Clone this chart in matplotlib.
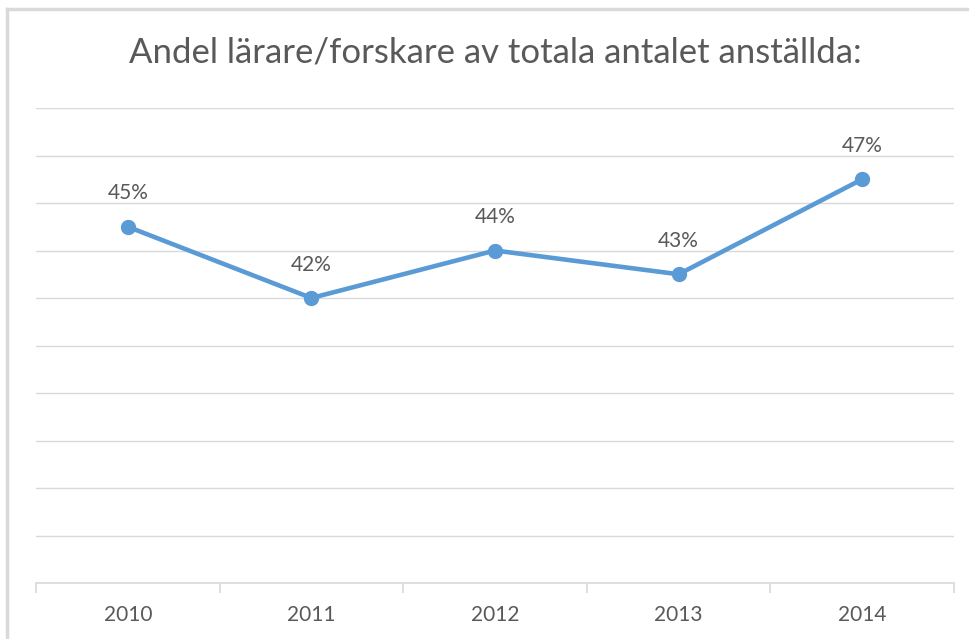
import matplotlib
matplotlib.use("Agg")
import matplotlib.pyplot as plt
from matplotlib.lines import Line2D
import numpy as np

years = ["2010", "2011", "2012", "2013", "2014"]
values = [45, 42, 44, 43, 47]
labels = ["45%", "42%", "44%", "43%", "47%"]
title = "Andel lärare/forskare av totala antalet anställda:"

plt.rcParams['font.family'] = ['Lato', 'DejaVu Sans']

W, H = 970, 639
fig = plt.figure(figsize=(W / 100, H / 100), dpi=100)
fig.patch.set_facecolor("white")

# chart border (left and top visible)
fig.add_artist(Line2D([7.5 / W, 7.5 / W], [0, 1 - 9 / H], transform=fig.transFigure, color="#d9d9d9", lw=2.5))
fig.add_artist(Line2D([7.5 / W, 1], [1 - 9 / H, 1 - 9 / H], transform=fig.transFigure, color="#d9d9d9", lw=2.5))

left, right, top, bottom = 36, 954, 108, 583
ax = fig.add_axes([left / W, 1 - bottom / H, (right - left) / W, (bottom - top) / H])
x = np.arange(len(years))
ax.set_xlim(-0.5, len(years) - 0.5)
ax.set_ylim(30, 50)
ax.set_yticks(np.arange(30, 51, 2))
ax.yaxis.grid(True, color="#d9d9d9", lw=1)
ax.set_axisbelow(True)
ax.tick_params(axis="y", left=False, labelleft=False)
for s in ["left", "right", "top"]:
    ax.spines[s].set_visible(False)
ax.spines["bottom"].set_color("#d9d9d9")
ax.spines["bottom"].set_linewidth(1.2)

ax.set_xticks(np.arange(-0.5, len(years), 1))
ax.set_xticklabels([])
ax.set_xticks(x, minor=True)
ax.set_xticklabels(years, minor=True)
ax.tick_params(axis="x", which="major", length=7, color="#d9d9d9", width=1.2)
ax.tick_params(axis="x", which="minor", length=0, pad=16, labelsize=15, labelcolor="#595959")

ax.plot(x, values, color="#5B9BD5", lw=3.3, marker="o", markersize=10, solid_capstyle="round", zorder=3)
for xi, v, lab in zip(x, values, labels):
    ax.annotate(lab, (xi, v), xytext=(0, 24), textcoords="offset points", ha="center", va="center",
                fontsize=15, color="#595959")

fig.text(495 / W, 1 - 52 / H, title, ha="center", va="center", fontsize=25, color="#595959")

fig.savefig("out.png", dpi=100)
